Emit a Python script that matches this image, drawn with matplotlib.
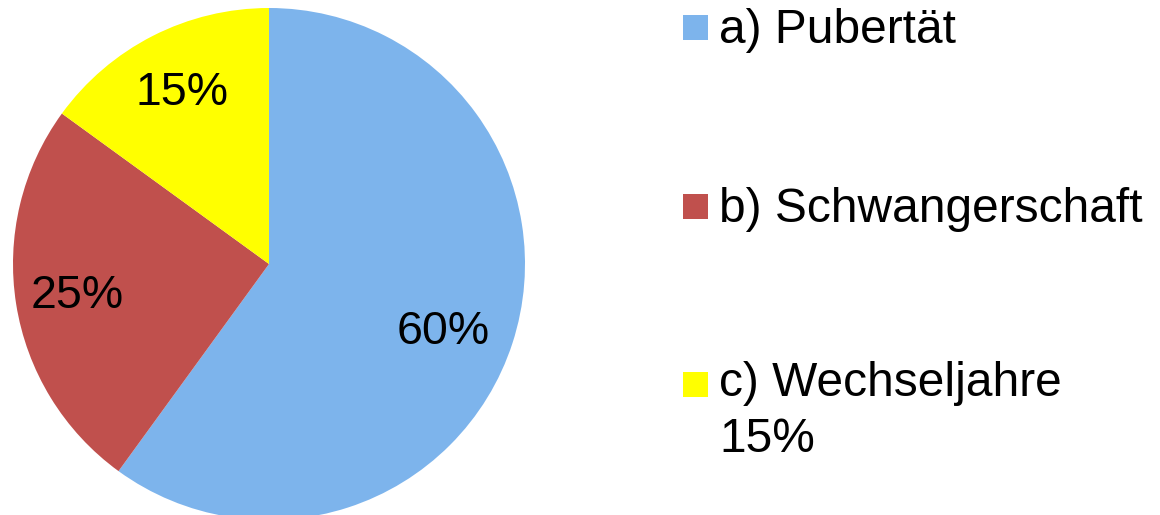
import matplotlib
matplotlib.use("Agg")
import matplotlib.pyplot as plt
import matplotlib.patches as mpatches

labels = ["a) Pubertät", "b) Schwangerschaft", "c) Wechseljahre\n15%"]
values = [60, 25, 15]
colors = ["#7DB4EC", "#C0504D", "#FFFF00"]

plt.rcParams["font.family"] = ["Liberation Sans", "DejaVu Sans"]

W, H = 1160, 515
fig = plt.figure(figsize=(W / 100, H / 100), dpi=100)
ax = fig.add_axes([0, 0, 1, 1])

# pie in pixel coordinates (y up)
wedges, texts, autotexts = ax.pie(
    values, colors=colors, startangle=90, counterclock=False,
    center=(269, H - 264), radius=256,
    autopct="%d%%", pctdistance=0.75,
    wedgeprops=dict(linewidth=0),
    textprops=dict(fontsize=33.5, color="black"),
)
# nudge labels to where the original puts them
autotexts[0].set_position((443, H - 332))
autotexts[1].set_position((77, H - 296))
ax.set_xlim(0, W)
ax.set_ylim(0, H)
ax.set_aspect("equal")
ax.axis("off")

# legend drawn by hand (baseline of the last line of each label)
square_y = [27.5, 206, 384.5]
base_y = [43, 222, 452]
for lab, col, sy, by in zip(labels, colors, square_y, base_y):
    ax.add_patch(mpatches.Rectangle((683, H - sy - 12.5), 25, 25,
                                    facecolor=col, edgecolor="none"))
    ax.text(719, H - by, lab, fontsize=34.5, ha="left", va="baseline",
            linespacing=1.3)

fig.savefig("out.png", dpi=100)
